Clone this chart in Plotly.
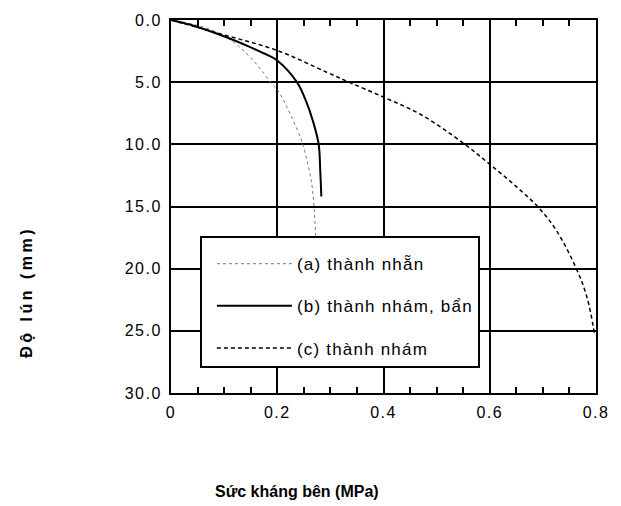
import plotly.graph_objects as go

# ---- data ----
# (a) thành nhẵn
a_x = [0, 0.06, 0.10, 0.126, 0.163, 0.187, 0.20, 0.217, 0.244, 0.252, 0.265, 0.270, 0.272, 0.273]
a_y = [0, 0.55, 1.3, 2.06, 3.65, 5.0, 5.6, 6.9, 9.5, 10.6, 13.2, 15.6, 17.2, 18.5]
# (b) thành nhám, bẩn
b_x = [0, 0.044, 0.107, 0.150, 0.181, 0.20, 0.237, 0.254, 0.267, 0.278, 0.281, 0.283]
b_y = [0, 0.48, 1.43, 2.2, 2.8, 3.25, 5.0, 6.5, 8.1, 10.0, 12.2, 14.2]
# (c) thành nhám
c_x = [0, 0.10, 0.20, 0.293, 0.335, 0.40, 0.47, 0.55, 0.60, 0.65, 0.69, 0.725, 0.763, 0.783, 0.797]
c_y = [0, 1.2, 2.45, 4.2, 5.0, 6.2, 7.6, 9.9, 11.6, 13.4, 15.0, 16.9, 20.0, 22.3, 25.2]

names = ["(a) thành nhẵn", "(b) thành nhám, bẩn", "(c) thành nhám"]
x_ticks = [0, 0.2, 0.4, 0.6, 0.8]
x_labels = ["0", "0.2", "0.4", "0.6", "0.8"]
y_ticks = [0, 5, 10, 15, 20, 25, 30]
y_labels = ["0.0", "5.0", "10.0", "15.0", "20.0", "25.0", "30.0"]
x_title = "Sức kháng bên (MPa)"
y_title = "Độ lún (mm)"

FONT = "Liberation Sans, Arial, sans-serif"


def spaced(t, px):
    return f"<span style='letter-spacing:{px}px'>{t}</span>"


fig = go.Figure()
fig.add_trace(go.Scatter(x=a_x, y=a_y, mode="lines", name=spaced(names[0], 1.2), legendgroup="a",
                         line=dict(color="#777777", width=1, dash="3px,3px", shape="spline", smoothing=1)))
fig.add_trace(go.Scatter(x=b_x, y=b_y, mode="lines", name=spaced(names[1], 1.2), legendgroup="b",
                         line=dict(color="black", width=2, shape="spline", smoothing=1)))
fig.add_trace(go.Scatter(x=c_x, y=c_y, mode="lines", name=spaced(names[2], 1.2), legendgroup="c",
                         line=dict(color="black", width=1.5, dash="4px,3px", shape="spline", smoothing=1)))

axis_common = dict(showline=True, linecolor="black", linewidth=2, mirror="ticks",
                   showgrid=True, gridcolor="black", gridwidth=2, zeroline=False,
                   ticks="inside", ticklen=7, tickwidth=2, tickcolor="black",
                   tickfont=dict(family=FONT, size=16, color="black"))

fig.update_xaxes(range=[0, 0.8], tickvals=x_ticks, ticktext=[spaced(t, 1.5) for t in x_labels],
                 minor=dict(dtick=0.05, ticks="inside", ticklen=6, tickwidth=1.5,
                            tickcolor="black", showgrid=False),
                 ticklabelstandoff=4, **axis_common)
fig.update_yaxes(range=[30, 0], tickvals=y_ticks, ticktext=[spaced(t, 1.5) for t in y_labels],
                 ticklabelstandoff=4, **axis_common)

fig.update_layout(
    width=621, height=506,
    margin=dict(l=171, r=22, t=18, b=113),
    paper_bgcolor="white", plot_bgcolor="white",
    font=dict(family=FONT, color="black"),
    showlegend=True,
    legend=dict(x=0.068, y=0.42, xanchor="left", yanchor="top",
                bgcolor="white", bordercolor="black", borderwidth=2,
                font=dict(family=FONT, size=17, color="black"),
                title=dict(text=" ", font=dict(size=6)),
                tracegroupgap=17, itemwidth=75, indentation=10),
    annotations=[
        dict(text=x_title, xref="paper", yref="paper", x=0.297, y=-0.264,
             xanchor="center", yanchor="middle", showarrow=False,
             font=dict(family=FONT, size=16, color="black", weight="bold")),
        dict(text=spaced(y_title, 3.5), xref="paper", yref="paper", x=-0.34, y=0.27,
             xanchor="center", yanchor="middle", showarrow=False, textangle=-90,
             font=dict(family=FONT, size=16, color="black", weight="bold")),
    ],
)

fig.write_html("out.html")
